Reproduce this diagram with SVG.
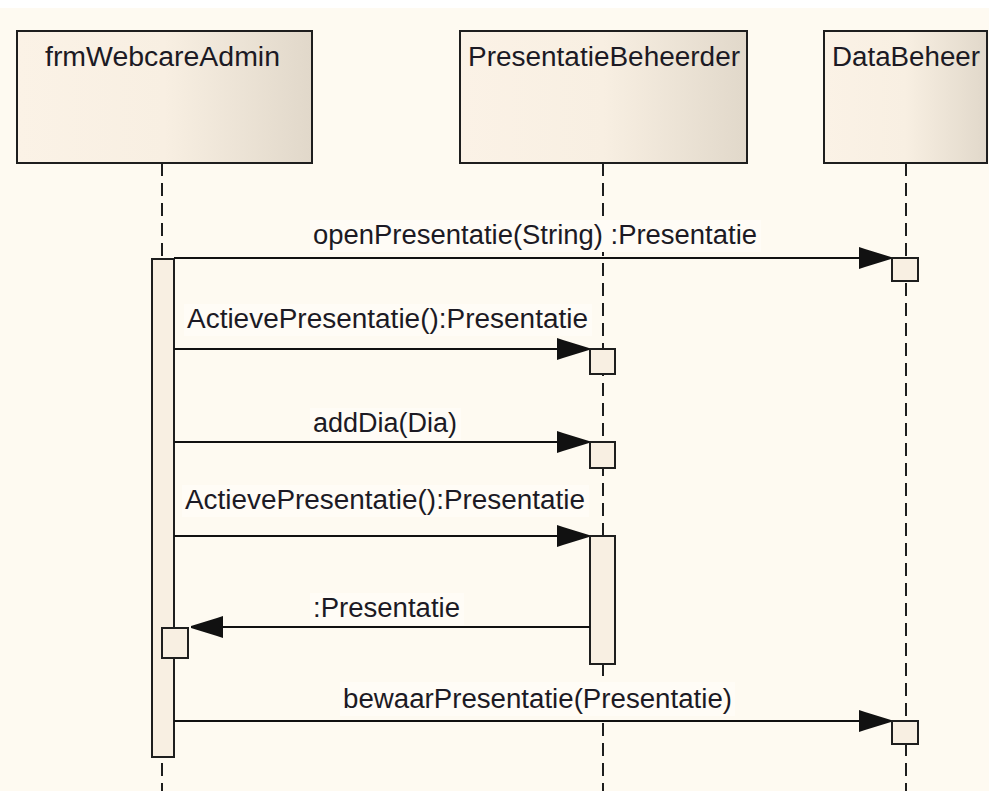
<svg xmlns="http://www.w3.org/2000/svg" width="989" height="791" viewBox="0 0 989 791">
  <defs>
    <linearGradient id="headFill" x1="0" y1="0" x2="1" y2="0">
      <stop offset="0" stop-color="#fbf2e6"/>
      <stop offset="0.5" stop-color="#f8efe2"/>
      <stop offset="1" stop-color="#e1d8ca"/>
    </linearGradient>
    <marker id="arrowFilled" viewBox="0 0 32 22" refX="32" refY="11" markerWidth="32" markerHeight="22" markerUnits="userSpaceOnUse" orient="auto">
      <path d="M0,0 L6,2 L32,10 L32,12 L6,20 L0,22 Z" fill="#111"/>
    </marker>
    <style>
      .head { fill: url(#headFill); stroke: #1e1e1e; stroke-width: 2; }
      .title { font-family: "Liberation Sans", Arial, sans-serif; font-size: 27px; fill: #1c1a24; }
      .label { font-family: "Liberation Sans", Arial, sans-serif; font-size: 27px; fill: #1c1a24; }
      .label-bg { fill: #fffcf6; }
      .lifeline { stroke: #1e1e1e; stroke-width: 2; stroke-dasharray: 13 7; fill: none; }
      .act { fill: #f8efe2; stroke: #1e1e1e; stroke-width: 2; }
      .msg { stroke: #111; stroke-width: 2; fill: none; marker-end: url(#arrowFilled); }
    </style>
  </defs>

  <!-- canvas -->
  <rect x="0" y="0" width="989" height="791" fill="#fefaf1"/>
  <rect x="0" y="0" width="989" height="8" fill="#ffffff"/>

  <!-- lifeline: frmWebcareAdmin -->
  <g id="frmWebcareAdmin">
    <line class="lifeline" x1="162" y1="163" x2="162" y2="791"/>
    <rect class="head" x="17" y="31" width="295" height="132"/>
    <text class="title" x="45" y="66" textLength="235" lengthAdjust="spacingAndGlyphs">frmWebcareAdmin</text>
    <rect class="act" x="152" y="259" width="22" height="498"/>
    <rect class="act" x="162" y="628" width="26" height="30"/>
  </g>

  <!-- lifeline: PresentatieBeheerder -->
  <g id="PresentatieBeheerder">
    <line class="lifeline" x1="603" y1="163" x2="603" y2="791"/>
    <rect class="head" x="460" y="31" width="287" height="132"/>
    <text class="title" x="468" y="66" textLength="272" lengthAdjust="spacingAndGlyphs">PresentatieBeheerder</text>
    <rect class="act" x="590" y="349" width="25" height="25"/>
    <rect class="act" x="590" y="442" width="25" height="26"/>
    <rect class="act" x="590" y="536" width="25" height="128"/>
  </g>

  <!-- lifeline: DataBeheer -->
  <g id="DataBeheer">
    <line class="lifeline" x1="906" y1="163" x2="906" y2="791"/>
    <rect class="head" x="824" y="31" width="163" height="132"/>
    <text class="title" x="832" y="66" textLength="148" lengthAdjust="spacingAndGlyphs">DataBeheer</text>
    <rect class="act" x="892" y="258" width="26" height="23"/>
    <rect class="act" x="892" y="721" width="26" height="23"/>
  </g>

  <!-- messages; each label sits on an opaque plate that hides the lifelines behind it -->
  <g id="connectors">
    <line class="msg" x1="174" y1="258" x2="891" y2="258"/>
    <rect class="label-bg" x="310" y="220" width="451" height="32"/>
    <text class="label" x="313" y="244" textLength="444" lengthAdjust="spacingAndGlyphs">openPresentatie(String) :Presentatie</text>

    <line class="msg" x1="174" y1="349" x2="589" y2="349"/>
    <rect class="label-bg" x="184" y="304" width="408" height="32"/>
    <text class="label" x="187" y="328" textLength="401" lengthAdjust="spacingAndGlyphs">ActievePresentatie():Presentatie</text>

    <line class="msg" x1="174" y1="442" x2="589" y2="442"/>
    <rect class="label-bg" x="310" y="408" width="151" height="32"/>
    <text class="label" x="313" y="432" textLength="144" lengthAdjust="spacingAndGlyphs">addDia(Dia)</text>

    <line class="msg" x1="174" y1="536" x2="589" y2="536"/>
    <rect class="label-bg" x="182" y="485" width="407" height="32"/>
    <text class="label" x="185" y="509" textLength="400" lengthAdjust="spacingAndGlyphs">ActievePresentatie():Presentatie</text>

    <line class="msg" x1="590" y1="627" x2="191" y2="627"/>
    <rect class="label-bg" x="310" y="593" width="154" height="32"/>
    <text class="label" x="313" y="617" textLength="147" lengthAdjust="spacingAndGlyphs">:Presentatie</text>

    <line class="msg" x1="174" y1="721" x2="891" y2="721"/>
    <rect class="label-bg" x="340" y="682" width="395" height="34"/>
    <text class="label" x="343" y="708" textLength="389" lengthAdjust="spacingAndGlyphs">bewaarPresentatie(Presentatie)</text>
  </g>
</svg>
